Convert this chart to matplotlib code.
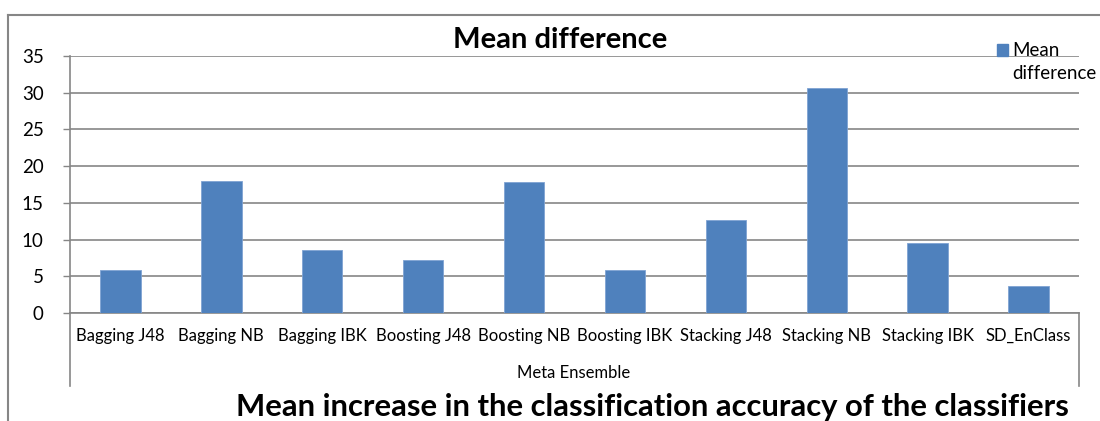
import matplotlib
matplotlib.use("Agg")
import matplotlib.pyplot as plt
from matplotlib.lines import Line2D
from matplotlib.patches import Rectangle
import numpy as np

# chart data
categories = ["Bagging J48", "Bagging NB", "Bagging IBK", "Boosting J48", "Boosting NB",
              "Boosting IBK", "Stacking J48", "Stacking NB", "Stacking IBK", "SD_EnClass"]
mean_diff = [5.8, 18.0, 8.6, 7.2, 17.9, 5.8, 12.6, 30.6, 9.6, 3.7]
y_ticks = [0, 5, 10, 15, 20, 25, 30, 35]
legend_label = "Mean\ndifference"

bar_color = "#4F81BD"
grid_color = "#868686"

plt.rcParams["font.family"] = ["Lato", "DejaVu Sans"]

W, H = 1100, 421
fig = plt.figure(figsize=(W / 100, H / 100), dpi=100)
ax = fig.add_axes([70 / W, 1 - 313 / H, (1079 - 70) / W, (313 - 56) / H])

x = np.arange(len(categories))
ax.bar(x, mean_diff, width=0.4, color=bar_color, edgecolor="#7FA3D3", linewidth=0.6, zorder=3)

ax.set_xlim(-0.5, len(categories) - 0.5)
ax.set_ylim(0, 35)
ax.set_yticks(y_ticks)
ax.set_yticklabels([str(v) for v in y_ticks], fontsize=13.5)
ax.set_xticks(x)
ax.set_xticklabels(categories, fontsize=12)
ax.tick_params(axis="x", length=0, pad=11)
ax.tick_params(axis="y", length=5, width=1, color=grid_color, pad=14)
ax.yaxis.grid(True, color=grid_color, linewidth=1.2, zorder=0)
ax.set_axisbelow(True)

for side in ["top", "right"]:
    ax.spines[side].set_visible(False)
ax.spines["left"].set_color(grid_color)
ax.spines["bottom"].set_color(grid_color)
ax.spines["left"].set_linewidth(1.2)
ax.spines["bottom"].set_linewidth(1.2)

# category box lines under the axis
for px in (70, 1079):
    fig.add_artist(Line2D([px / W, px / W], [1 - 313 / H, 1 - 386 / H],
                          color=grid_color, linewidth=1.2))

fig.text(574 / W, 1 - 373 / H, "Meta Ensemble", ha="center", va="center", fontsize=12)

# outer chart frame
fig.add_artist(Line2D([8 / W, 8 / W], [0, 1 - 14.5 / H], color=grid_color, linewidth=1.5))
fig.add_artist(Line2D([8 / W, 1], [1 - 14.5 / H, 1 - 14.5 / H], color=grid_color, linewidth=1.5))

fig.text(560 / W, 1 - 40 / H, "Mean difference", ha="center", va="center",
         fontsize=21, fontweight="bold")
fig.text(652 / W, 1 - 407 / H, "Mean increase in the classification accuracy of the classifiers",
         ha="center", va="center", fontsize=22.3, fontweight="bold")

# legend drawn by hand so the key sits beside the first line
fig.add_artist(Rectangle((997 / W, 1 - 56 / H), 11 / W, 12 / H, color=bar_color,
                         transform=fig.transFigure))
fig.text(1012 / W, 1 - 42 / H, legend_label, ha="left", va="top", fontsize=13.5,
         linespacing=1.45)

fig.savefig("out.png", dpi=100)
